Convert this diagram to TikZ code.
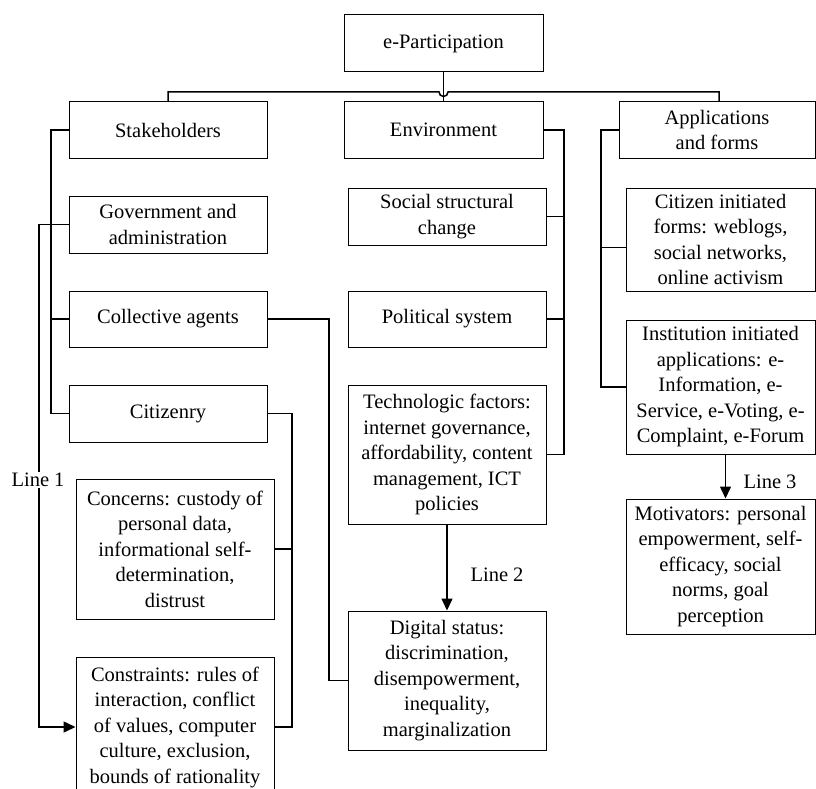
\documentclass[tikz,border=0pt]{standalone}
\usepackage{fontspec}
\setmainfont{Liberation Serif}
\usetikzlibrary{arrows.meta}
\begin{document}
\begin{tikzpicture}[x=1pt,y=-1pt,
  box/.style={draw,line width=1pt,align=center,inner sep=0pt,font=\fontsize{20.5}{25.5}\selectfont},
  conn/.style={line width=1.5pt},
  arr/.style={conn,-{Triangle[length=12pt,width=11pt]}},
  lbl/.style={font=\fontsize{20.5}{25}\selectfont,fill=white,inner sep=1pt}]
\useasboundingbox (0,0) rectangle (816,789);
% top
\node[box,minimum width=199pt,minimum height=57pt] (ep) at (443.5,43.5) {e-Participation};
\node[box,minimum width=198pt,minimum height=56pt] (st) at (168,130) {Stakeholders};
\node[box,minimum width=199pt,minimum height=56pt] (en) at (443.5,130) {Environment};
\node[box,minimum width=196pt,minimum height=56pt] (ap) at (717,130) {Applications\\and forms};
% left column
\node[box,minimum width=198pt,minimum height=57pt] (gov) at (168,224.5) {Government and\\administration};
\node[box,minimum width=198pt,minimum height=56pt] (col) at (168,319) {Collective agents};
\node[box,minimum width=198pt,minimum height=57pt] (cit) at (168,413.5) {Citizenry};
\node[box,minimum width=198pt,minimum height=140pt] (con) at (175,549) {Concerns: custody of\\personal data,\\informational self-\\determination,\\distrust};
\node[box,minimum width=198pt,minimum height=140pt] (cst) at (175,727) {Constraints: rules of\\interaction, conflict\\of values, computer\\culture, exclusion,\\bounds of rationality};
% middle column
\node[box,minimum width=198pt,minimum height=57pt] (soc) at (447,216.5) {Social structural\\change};
\node[box,minimum width=198pt,minimum height=56pt] (pol) at (447,319) {Political system};
\node[box,minimum width=198pt,minimum height=139pt] (tec) at (447,454.5) {Technologic factors:\\internet governance,\\affordability, content\\management, ICT\\policies};
\node[box,minimum width=198pt,minimum height=139pt] (dig) at (447,680.5) {Digital status:\\discrimination,\\disempowerment,\\inequality,\\marginalization};
% right column
\node[box,minimum width=189pt,minimum height=103pt] (cin) at (720.5,239.5) {Citizen initiated\\forms: weblogs,\\social networks,\\online activism};
\node[box,minimum width=189pt,minimum height=134pt] (ins) at (720.5,387) {Institution initiated\\applications: e-\\Information, e-\\Service, e-Voting, e-\\Complaint, e-Forum};
\node[box,minimum width=189pt,minimum height=135pt] (mot) at (720.5,566.5) {Motivators: personal\\empowerment, self-\\efficacy, social\\norms, goal\\perception};
% top connectors
\draw[conn] (ep.south) -- (en.north);
\coordinate (bl) at (168,92);
\coordinate (br) at (719,92);
\draw[conn] (st.north) -- (bl) -- (439,92) arc[start angle=180,end angle=0,radius=4.5] -- (br) -- (br |- ap.north);
% stakeholders tree
\coordinate (sx) at (51,130);
\draw[conn] (st.west) -- (sx) -- (sx |- cit.west) -- (cit.west);
\draw[conn] (sx |- col.west) -- (col.west);
\draw[conn] (sx |- gov.west) -- (gov.west);
% Line 1
\coordinate (l1) at (39,224.5);
\draw[arr] (gov.west) -- (l1) -- (l1 |- cst.west) -- (cst.west);
\node[lbl] (line1) at (38,480) {Line 1};
% collective agents -> digital status
\coordinate (cx) at (329,319);
\draw[conn] (col.east) -- (cx) -- (cx |- dig.west) -- (dig.west);
% citizenry -> concerns, constraints
\coordinate (zx) at (292,413.5);
\draw[conn] (cit.east) -- (zx) -- (zx |- cst.east) -- (cst.east);
\draw[conn] (zx |- con.east) -- (con.east);
% environment tree
\coordinate (ex) at (564,130);
\draw[conn] (en.east) -- (ex) -- (ex |- tec.east) -- (tec.east);
\draw[conn] (ex |- soc.east) -- (soc.east);
\draw[conn] (ex |- pol.east) -- (pol.east);
% Line 2
\draw[arr] (tec.south) -- (dig.north);
\node[lbl] (line2) at (497,575) {Line 2};
% applications tree
\coordinate (ax) at (601,130);
\draw[conn] (ap.west) -- (ax) -- (ax |- ins.west) -- (ins.west);
\coordinate (cinw) at ([yshift=-8pt]cin.west);
\draw[conn] (ax |- cinw) -- (cinw);
% Line 3
\coordinate (insb) at ([xshift=5pt]ins.south);
\coordinate (mott) at ([xshift=5pt]mot.north);
\draw[arr] (insb) -- (mott);
\node[lbl] (line3) at (770,482) {Line 3};
\end{tikzpicture}
\end{document}
